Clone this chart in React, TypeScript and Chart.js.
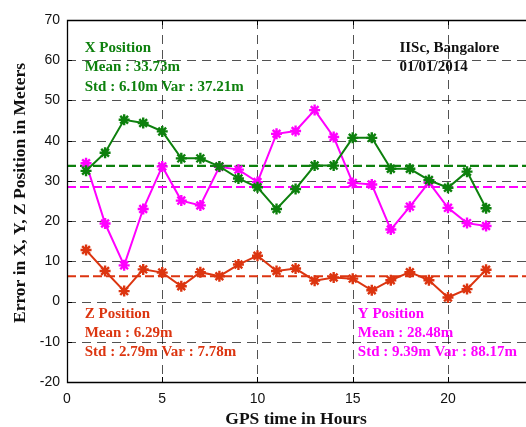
import React, { useEffect, useRef } from "react";
import { Chart, registerables } from "chart.js";

Chart.register(...registerables);

// ---- data ----
const hours = [1, 2, 3, 4, 5, 6, 7, 8, 9, 10, 11, 12, 13, 14, 15, 16, 17, 18, 19, 20, 21, 22];
const xPosition = [32.5, 37.0, 45.2, 44.4, 42.3, 35.6, 35.6, 33.6, 30.6, 28.4, 23.0, 28.0, 33.8, 33.8, 40.7, 40.7, 33.0, 33.0, 30.2, 28.3, 32.3, 23.2];
const yPosition = [34.4, 19.4, 9.0, 23.0, 33.6, 25.1, 23.9, 33.5, 32.8, 29.7, 41.7, 42.4, 47.6, 40.9, 29.5, 29.1, 17.9, 23.6, 29.6, 23.3, 19.5, 18.8];
const zPosition = [12.8, 7.6, 2.6, 8.0, 7.2, 3.8, 7.3, 6.3, 9.2, 11.4, 7.6, 8.2, 5.2, 6.0, 5.7, 2.8, 5.3, 7.3, 5.3, 1.0, 3.1, 7.9];
const xMean = 33.73;
const yMean = 28.48;
const zMean = 6.29;
const xTickValues = [0, 5, 10, 15, 20, 25];
const yTickValues = [-20, -10, 0, 10, 20, 30, 40, 50, 60, 70];

const GREEN = "#0d800d";
const MAGENTA = "#ff00ff";
const RED = "#dc3510";

// annotations (text, data-coordinate anchor)
const annotations = [
  { text: "X Position", x: 0.93, y: 63.0, color: GREEN },
  { text: "Mean : 33.73m", x: 0.93, y: 58.2, color: GREEN },
  { text: "Std : 6.10m Var : 37.21m", x: 0.93, y: 53.4, color: GREEN },
  { text: "IISc, Bangalore", x: 17.45, y: 63.0, color: "#111111" },
  { text: "01/01/2014", x: 17.45, y: 58.2, color: "#111111" },
  { text: "Z Position", x: 0.93, y: -3.2, color: RED },
  { text: "Mean : 6.29m", x: 0.93, y: -7.9, color: RED },
  { text: "Std : 2.79m Var : 7.78m", x: 0.93, y: -12.6, color: RED },
  { text: "Y Position", x: 15.27, y: -3.2, color: MAGENTA },
  { text: "Mean : 28.48m", x: 15.27, y: -7.9, color: MAGENTA },
  { text: "Std : 9.39m Var : 88.17m", x: 15.27, y: -12.6, color: MAGENTA },
];

const toPts = (vals: number[]) => hours.map((h, i) => ({ x: h, y: vals[i] }));
const meanPts = (m: number) => [
  { x: xTickValues[0], y: m },
  { x: xTickValues[xTickValues.length - 1], y: m },
];

const gridPlugin = {
  id: "dashedGrid",
  beforeDatasetsDraw(chart: any) {
    const { ctx, chartArea, scales } = chart;
    ctx.save();
    ctx.strokeStyle = "rgba(0,0,0,0.68)";
    ctx.lineWidth = 1;
    ctx.setLineDash([9, 6]);
    for (const v of xTickValues) {
      if (v === xTickValues[0]) continue;
      const px = Math.round(scales.x.getPixelForValue(v)) + 0.5;
      ctx.beginPath();
      ctx.moveTo(px, chartArea.top);
      ctx.lineTo(px, chartArea.bottom);
      ctx.stroke();
    }
    for (const v of yTickValues) {
      if (v === yTickValues[0] || v === yTickValues[yTickValues.length - 1]) continue;
      const py = Math.round(scales.y.getPixelForValue(v)) + 0.5;
      ctx.beginPath();
      ctx.moveTo(chartArea.left, py);
      ctx.lineTo(chartArea.right, py);
      ctx.stroke();
    }
    ctx.restore();
  },
};

const decorPlugin = {
  id: "decor",
  afterDatasetsDraw(chart: any) {
    const { ctx, chartArea, scales } = chart;
    ctx.save();
    // solid box (left, bottom, top)
    ctx.strokeStyle = "#000";
    ctx.lineWidth = 1.3;
    ctx.setLineDash([]);
    ctx.beginPath();
    ctx.moveTo(chartArea.right, chartArea.top + 0.5);
    ctx.lineTo(chartArea.left + 0.5, chartArea.top + 0.5);
    ctx.lineTo(chartArea.left + 0.5, chartArea.bottom + 0.5);
    ctx.lineTo(chartArea.right, chartArea.bottom + 0.5);
    ctx.stroke();
    // inward tick marks
    ctx.lineWidth = 1;
    ctx.beginPath();
    for (const v of xTickValues) {
      const px = Math.round(scales.x.getPixelForValue(v)) + 0.5;
      ctx.moveTo(px, chartArea.bottom);
      ctx.lineTo(px, chartArea.bottom - 5);
      ctx.moveTo(px, chartArea.top);
      ctx.lineTo(px, chartArea.top + 5);
    }
    for (const v of yTickValues) {
      const py = Math.round(scales.y.getPixelForValue(v)) + 0.5;
      ctx.moveTo(chartArea.left, py);
      ctx.lineTo(chartArea.left + 5, py);
    }
    ctx.stroke();
    // annotations
    ctx.font = "bold 15px 'Liberation Serif', 'Times New Roman', serif";
    ctx.textAlign = "left";
    ctx.textBaseline = "middle";
    for (const a of annotations) {
      ctx.fillStyle = a.color;
      ctx.fillText(a.text, scales.x.getPixelForValue(a.x), scales.y.getPixelForValue(a.y));
    }
    // axis titles
    ctx.fillStyle = "#111";
    ctx.font = "bold 17.5px 'Liberation Serif', 'Times New Roman', serif";
    ctx.textAlign = "center";
    ctx.fillText("GPS time in Hours", 296, 419);
    ctx.translate(20, 193);
    ctx.rotate(-Math.PI / 2);
    ctx.fillText("Error in X, Y, Z Position in Meters", 0, 0);
    ctx.restore();
  },
};

export default function App() {
  const ref = useRef<HTMLCanvasElement | null>(null);

  useEffect(() => {
    if (!ref.current) return;
    const lineDs = (label: string, vals: number[], color: string) => ({
      label,
      data: toPts(vals),
      borderColor: color,
      backgroundColor: color,
      borderWidth: 2,
      pointStyle: "star",
      pointRadius: 5.5,
      pointBorderWidth: 2.4,
      pointBorderColor: color,
      tension: 0,
      order: 1,
    });
    const meanDs = (label: string, m: number, color: string) => ({
      label,
      data: meanPts(m),
      borderColor: color,
      borderWidth: 2.2,
      borderDash: [9, 4],
      pointRadius: 0,
      tension: 0,
      order: 2,
    });
    const chart = new Chart(ref.current, {
      type: "line",
      data: {
        datasets: [
          meanDs("X mean", xMean, GREEN),
          meanDs("Y mean", yMean, MAGENTA),
          meanDs("Z mean", zMean, RED),
          lineDs("X Position", xPosition, GREEN),
          lineDs("Y Position", yPosition, MAGENTA),
          lineDs("Z Position", zPosition, RED),
        ],
      } as any,
      options: {
        animation: false,
        responsive: false,
        devicePixelRatio: 1,
        layout: { padding: { left: 0, top: 20, right: 12, bottom: 0 } },
        plugins: { legend: { display: false }, tooltip: { enabled: false } },
        scales: {
          x: {
            type: "linear",
            min: xTickValues[0],
            max: xTickValues[xTickValues.length - 1],
            afterBuildTicks: (s: any) => {
              s.ticks = xTickValues.map((v) => ({ value: v }));
            },
            afterFit: (s: any) => {
              s.height = 45;
            },
            ticks: {
              color: "#111",
              padding: 9,
              font: { family: "'Liberation Sans', Arial, sans-serif", size: 14 },
            },
            grid: { display: false, drawTicks: false },
            border: { display: false },
          } as any,
          y: {
            type: "linear",
            min: yTickValues[0],
            max: yTickValues[yTickValues.length - 1],
            afterBuildTicks: (s: any) => {
              s.ticks = yTickValues.map((v) => ({ value: v }));
            },
            afterFit: (s: any) => {
              s.width = 67;
            },
            ticks: {
              color: "#111",
              padding: 7,
              font: { family: "'Liberation Sans', Arial, sans-serif", size: 14 },
            },
            grid: { display: false, drawTicks: false },
            border: { display: false },
          } as any,
        },
      } as any,
      plugins: [gridPlugin, decorPlugin],
    });
    return () => chart.destroy();
  }, []);

  return (
    <div
      style={{
        position: "fixed",
        left: 0,
        top: 0,
        width: 526,
        height: 427,
        overflow: "hidden",
        background: "#fff",
      }}
    >
      <canvas ref={ref} width={560} height={427} style={{ width: 560, height: 427, display: "block" }} />
    </div>
  );
}
